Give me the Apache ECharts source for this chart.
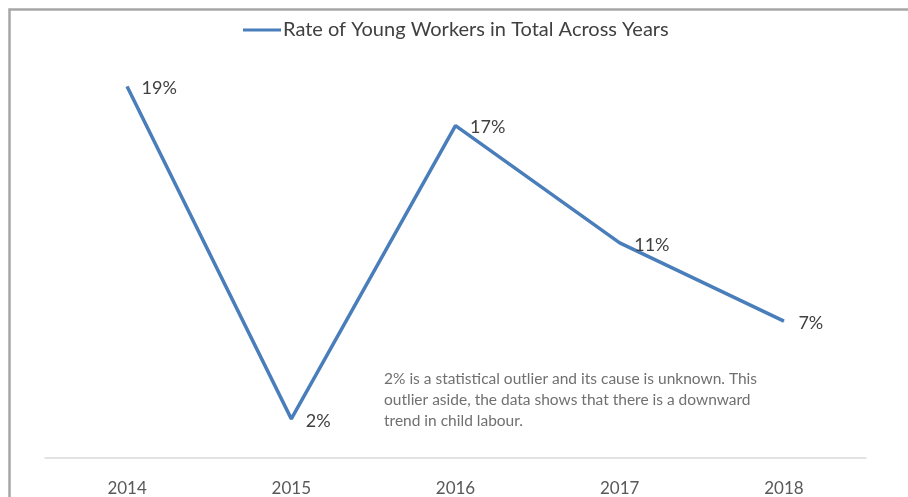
<!DOCTYPE html>
<html>
<head>
<meta charset="utf-8">
<script src="https://cdn.jsdelivr.net/npm/echarts@6/dist/echarts.min.js"></script>
<style>
html, body { margin: 0; padding: 0; background: #fff; }
#main { width: 908px; height: 497px; }
</style>
</head>
<body>
<div id="main"></div>
<script>
// data
var years = ['2014', '2015', '2016', '2017', '2018'];
var rates = [19, 2, 17, 11, 7];
var seriesName = 'Rate of Young Workers in Total Across Years';
var note = '2% is a statistical outlier and its cause is unknown. This\noutlier aside, the data shows that there is a downward\ntrend in child labour.';

var myChart = echarts.init(document.getElementById('main'));
var labelFont = 'Lato, "Open Sans", sans-serif';

var option = {
    backgroundColor: '#fff',
    animation: false,
    color: ['#4A7EBB'],
    legend: {
        top: 20,
        left: 243,
        padding: 0,
        itemWidth: 38,
        itemHeight: 3,
        itemGap: 4,
        icon: 'rect',
        textStyle: { fontFamily: labelFont, fontSize: 20, color: '#404040', padding: [0, 0, 0, -3] },
        data: [seriesName]
    },
    grid: { left: 45, right: 42, top: 67, bottom: 39 },
    xAxis: {
        type: 'category',
        data: years,
        boundaryGap: true,
        axisLine: { lineStyle: { color: '#d9d9d9', width: 1.5 } },
        axisTick: { show: false },
        axisLabel: { fontFamily: labelFont, fontSize: 17, color: '#595959', margin: 22 }
    },
    yAxis: {
        type: 'value',
        min: 0,
        max: 20,
        show: false,
        splitLine: { show: false }
    },
    series: [{
        name: seriesName,
        type: 'line',
        data: rates,
        showSymbol: true,
        symbol: 'circle',
        symbolSize: 1,
        itemStyle: { color: '#4A7EBB' },
        lineStyle: { width: 3.5, color: '#4A7EBB' },
        label: {
            show: true,
            position: 'right',
            distance: 14,
            offset: [0, 2],
            formatter: '{c}%',
            fontFamily: labelFont,
            fontSize: 18,
            color: '#404040'
        }
    }],
    graphic: [
        {
            type: 'rect',
            shape: { x: 9.5, y: 9.5, width: 920, height: 520 },
            style: { fill: 'none', stroke: '#a6a6a6', lineWidth: 2.5 },
            silent: true
        },
        {
            type: 'text',
            left: 384,
            top: 368,
            style: {
                text: note,
                fontFamily: 'Lato, "Open Sans", sans-serif',
                fontSize: 15.5,
                lineHeight: 21,
                fill: '#707070'
            }
        }
    ]
};
myChart.setOption(option);
</script>
</body>
</html>
